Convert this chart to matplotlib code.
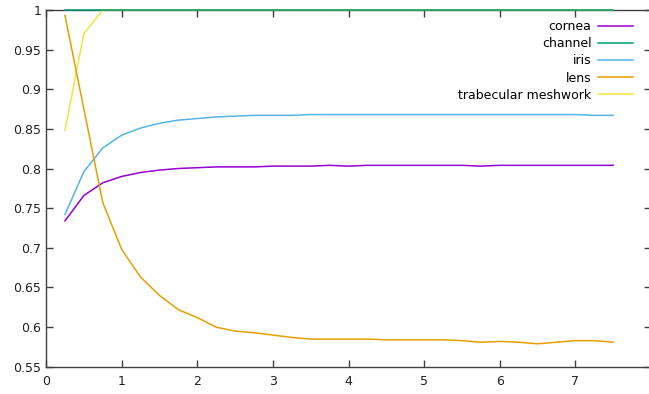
import matplotlib
matplotlib.use("Agg")

import numpy as np
import matplotlib.pyplot as plt


# === Data ===
x = [0.25, 0.5, 0.75, 1.0, 1.25, 1.5, 1.75, 2.0, 2.25, 2.5,
     2.75, 3.0, 3.25, 3.5, 3.75, 4.0, 4.25, 4.5, 4.75, 5.0,
     5.25, 5.5, 5.75, 6.0, 6.25, 6.5, 6.75, 7.0, 7.25, 7.5]

cornea = [0.734, 0.766, 0.782, 0.790, 0.795, 0.798, 0.800, 0.801, 0.802, 0.802,
          0.802, 0.803, 0.803, 0.803, 0.804, 0.803, 0.804, 0.804, 0.804, 0.804,
          0.804, 0.804, 0.803, 0.804, 0.804, 0.804, 0.804, 0.804, 0.804, 0.804]

channel = [1.0] * 30

iris = [0.742, 0.796, 0.826, 0.842, 0.851, 0.857, 0.861, 0.863, 0.865, 0.866,
        0.867, 0.867, 0.867, 0.868, 0.868, 0.868, 0.868, 0.868, 0.868, 0.868,
        0.868, 0.868, 0.868, 0.868, 0.868, 0.868, 0.868, 0.868, 0.867, 0.867]

lens = [0.993, 0.875, 0.757, 0.698, 0.663, 0.640, 0.622, 0.612, 0.600, 0.595,
        0.593, 0.590, 0.587, 0.585, 0.585, 0.585, 0.585, 0.584, 0.584, 0.584,
        0.584, 0.583, 0.581, 0.582, 0.581, 0.579, 0.581, 0.583, 0.583, 0.581]

trabecular = [0.848, 0.970, 1.0, 1.0, 1.0, 1.0, 1.0, 1.0, 1.0, 1.0,
              1.0, 1.0, 1.0, 1.0, 1.0, 1.0, 1.0, 1.0, 1.0, 1.0,
              1.0, 1.0, 1.0, 1.0, 1.0, 1.0, 1.0, 1.0, 1.0, 1.0]

series = [
    ("cornea", cornea, "#9400d3"),
    ("channel", channel, "#009e73"),
    ("iris", iris, "#56b4e9"),
    ("lens", lens, "#e69f00"),
    ("trabecular meshwork", trabecular, "#f0e442"),
]


def main():
    fig = plt.figure(figsize=(6.49, 3.94), dpi=100)
    ax = fig.add_axes([0.071, 0.069, 0.932, 0.906])

    # trabecular drawn first so channel sits on top at y=1
    order = [4, 0, 2, 3, 1]
    handles = {}
    for i in order:
        name, vals, col = series[i]
        line, = ax.plot(x, vals, color=col, lw=1.1, label=name,
                        clip_on=False, zorder=3 + order.index(i) * 0.1)
        handles[i] = line

    ax.set_xlim(0, 8)
    ax.set_ylim(0.55, 1.0)
    ax.set_xticks(np.arange(0, 9, 1))
    ax.set_yticks([0.55, 0.6, 0.65, 0.7, 0.75, 0.8, 0.85, 0.9, 0.95, 1.0])
    ax.set_yticklabels(["0.55", "0.6", "0.65", "0.7", "0.75", "0.8",
                        "0.85", "0.9", "0.95", "1"])

    for s in ax.spines.values():
        s.set_color("#404040")
        s.set_linewidth(1.0)

    ax.tick_params(direction="in", length=5, width=1, color="#404040",
                   top=True, right=True, labelsize=9, labelcolor="#202020")
    ax.tick_params(axis="x", pad=6)

    # === legend (gnuplot style: text right, sample on right) ===
    leg = ax.legend([handles[i] for i in range(5)],
                    [s[0] for s in series],
                    loc="upper right", bbox_to_anchor=(0.978, 0.985),
                    frameon=False, markerfirst=False, fontsize=9,
                    handlelength=2.8, handletextpad=0.5,
                    labelspacing=0.33, borderaxespad=0)
    for vp in leg._legend_box._children[-1]._children:
        vp.align = "right"

    fig.savefig("out.png", dpi=100)


if __name__ == "__main__":
    main()
